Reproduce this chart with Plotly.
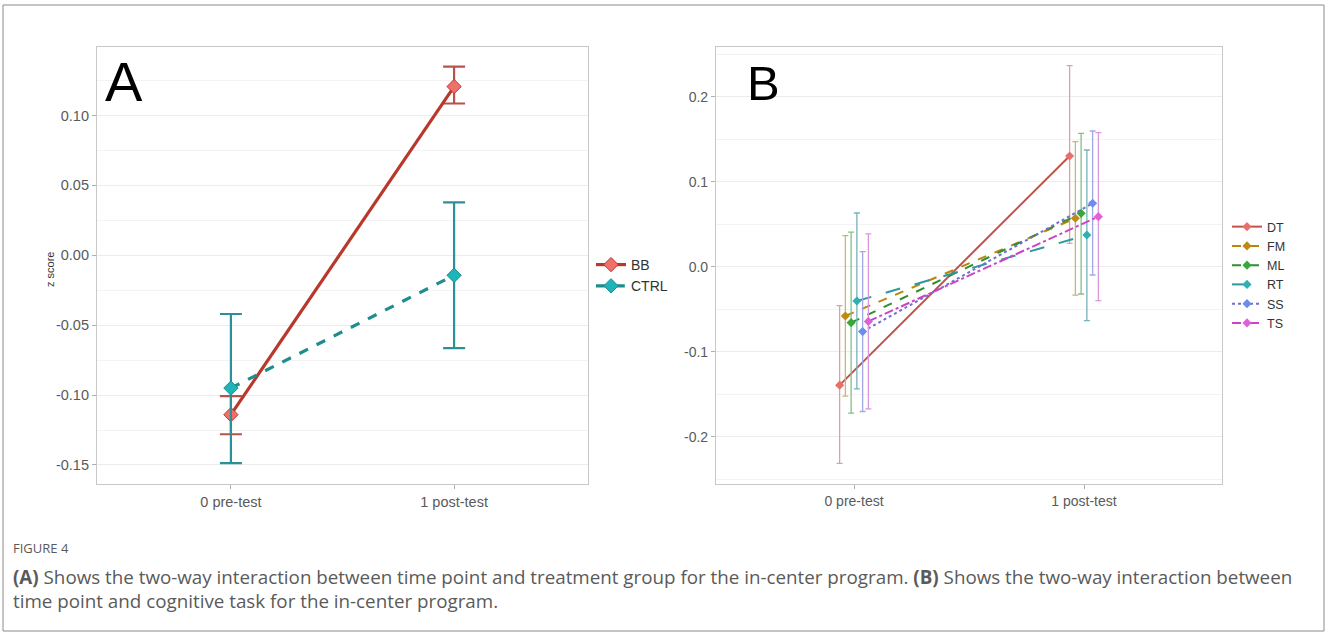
import plotly.graph_objects as go

# ---------------- data ----------------
time_labels = ["0 pre-test", "1 post-test"]

# Panel A
groups_a = ["BB", "CTRL"]
bb_mean = [-0.114, 0.1207]
bb_low = [-0.128, 0.1086]
bb_high = [-0.1007, 0.135]
ctrl_mean = [-0.095, -0.0143]
ctrl_low = [-0.1486, -0.0664]
ctrl_high = [-0.042, 0.0379]

# Panel B
tasks_b = ["DT", "FM", "ML", "RT", "SS", "TS"]
b_mean_pre = [-0.139, -0.0576, -0.0655, -0.040, -0.076, -0.064]
b_low_pre = [-0.231, -0.152, -0.172, -0.1435, -0.170, -0.167]
b_high_pre = [-0.0455, 0.037, 0.041, 0.0635, 0.018, 0.039]
b_mean_post = [0.1306, 0.0573, 0.0631, 0.0376, 0.0749, 0.0592]
b_low_post = [0.0278, -0.033, -0.0318, -0.063, -0.0094, -0.0396]
b_high_post = [0.2369, 0.1475, 0.1573, 0.1376, 0.160, 0.158]

# ---------------- styles ----------------
W, H = 1328, 634
A_line = {"BB": "#b8382c", "CTRL": "#1f8c8e"}
A_err = {"BB": "#b9524c", "CTRL": "#2a9296"}
A_mark = {"BB": "#f0706a", "CTRL": "#1cb5b9"}
A_dash = {"BB": "solid", "CTRL": "dash"}

B_line = ["#c4504a", "#b8860b", "#2f8f2f", "#2a9a9e", "#6f6fd0", "#cc44c4"]
B_err = ["#d9a2a6", "#c9b47c", "#86bf86", "#76b3ba", "#a0a8e6", "#dc98dc"]
B_mark = ["#e8706a", "#c08a10", "#38a838", "#30b0b4", "#6b8cf0", "#e060d8"]
B_dash = ["solid", "dash", "dash", "longdash", "dot", "dashdot"]

FONT = "Liberation Sans, Arial"

fig = go.Figure()

xpos = [1, 2]
for g, m, lo, hi in [("BB", bb_mean, bb_low, bb_high), ("CTRL", ctrl_mean, ctrl_low, ctrl_high)]:
    fig.add_trace(go.Scatter(
        x=xpos, y=m, mode="lines+markers", name=g,
        line=dict(color=A_line[g], width=3.2, dash=A_dash[g]),
        marker=dict(symbol="diamond", size=11, color=A_mark[g],
                    line=dict(color=A_line[g], width=1)),
        error_y=dict(type="data", symmetric=False,
                     array=[h - v for h, v in zip(hi, m)],
                     arrayminus=[v - l for v, l in zip(m, lo)],
                     color=A_err[g], thickness=2.2, width=11),
        xaxis="x", yaxis="y", legend="legend",
    ))

n = len(tasks_b)
step = 0.025
for i, t in enumerate(tasks_b):
    off = (i - (n - 1) / 2) * step
    m = [b_mean_pre[i], b_mean_post[i]]
    lo = [b_low_pre[i], b_low_post[i]]
    hi = [b_high_pre[i], b_high_post[i]]
    fig.add_trace(go.Scatter(
        x=[p + off for p in xpos], y=m, mode="lines+markers", name=t,
        line=dict(color=B_line[i], width=2, dash=B_dash[i]),
        marker=dict(symbol="diamond", size=7, color=B_mark[i]),
        error_y=dict(type="data", symmetric=False,
                     array=[h - v for h, v in zip(hi, m)],
                     arrayminus=[v - l for v, l in zip(m, lo)],
                     color=B_err[i], thickness=1.3, width=3),
        xaxis="x2", yaxis="y2", legend="legend2",
    ))


def tf(size):
    return dict(family=FONT, size=size, color="#5a5a5a")


grid = "#ececec"
common_x = dict(tickvals=xpos, ticktext=time_labels, range=[0.4, 2.6],
                showgrid=False, zeroline=False, showline=True, mirror=True,
                linecolor="#c8c8c8", linewidth=1.2, ticks="outside", ticklen=4,
                tickcolor="#b0b0b0")
common_y = dict(showgrid=True, gridcolor=grid, gridwidth=1, zeroline=False,
                showline=True, mirror=True, linecolor="#c8c8c8", linewidth=1.2,
                ticks="outside", ticklen=4, tickcolor="#b0b0b0")

ytop, ybot = 1 - 47 / H, 1 - 484 / H
fig.update_layout(
    width=W, height=H, margin=dict(l=0, r=0, t=0, b=0),
    paper_bgcolor="white", plot_bgcolor="white",
    xaxis=dict(domain=[97 / W, 588 / W], anchor="y", tickfont=tf(14.5), **common_x),
    yaxis=dict(domain=[ybot, ytop], anchor="x", range=[-0.1636, 0.149],
               tickvals=[-0.15, -0.10, -0.05, 0.0, 0.05, 0.10],
               ticktext=["-0.15", "-0.10", "-0.05", "0.00", "0.05", "0.10"],
               tickfont=tf(14.5), **common_y,
               minor=dict(showgrid=True, gridcolor="#f3f3f3",
                          tickvals=[-0.125, -0.075, -0.025, 0.025, 0.075, 0.125])),
    xaxis2=dict(domain=[716 / W, 1222 / W], anchor="y2", tickfont=tf(14), **common_x),
    yaxis2=dict(domain=[ybot, ytop], anchor="x2", range=[-0.2553, 0.2588],
                tickvals=[-0.2, -0.1, 0.0, 0.1, 0.2],
                ticktext=["-0.2", "-0.1", "0.0", "0.1", "0.2"],
                tickfont=tf(14), **common_y,
                minor=dict(showgrid=True, gridcolor="#f3f3f3",
                           tickvals=[-0.25, -0.15, -0.05, 0.05, 0.15, 0.25])),
    legend=dict(x=591 / W, y=1 - 249 / H, xanchor="left", yanchor="top",
                bgcolor="rgba(0,0,0,0)", font=dict(family=FONT, size=14, color="#333333"),
                tracegroupgap=0, itemwidth=30),
    legend2=dict(x=1227 / W, y=1 - 212 / H, xanchor="left", yanchor="top",
                 bgcolor="rgba(0,0,0,0)", font=dict(family=FONT, size=12.5, color="#333333"),
                 tracegroupgap=0, itemwidth=30),
    showlegend=True,
)

# y-axis title of panel A
fig.add_annotation(text="z score", xref="paper", yref="paper", x=50 / W, y=1 - 270 / H,
                   xanchor="center", yanchor="middle",
                   showarrow=False, textangle=-90,
                   font=dict(family=FONT, size=11, color="#333333"))

# panel letters
fig.add_annotation(text="A", xref="paper", yref="paper", x=103 / W, y=1 - 82 / H,
                   xanchor="left", yanchor="middle", showarrow=False,
                   font=dict(family=FONT, size=56, color="black"))
fig.add_annotation(text="B", xref="paper", yref="paper", x=745 / W, y=1 - 83 / H,
                   xanchor="left", yanchor="middle", showarrow=False,
                   font=dict(family=FONT, size=49, color="black"))

# caption
cap_font = dict(family="Open Sans", size=18.8, color="#5a5a5a")
fig.add_annotation(text="FIGURE 4", xref="paper", yref="paper", x=11 / W, y=1 - 548 / H,
                   xanchor="left", yanchor="middle", showarrow=False,
                   font=dict(family="Open Sans", size=13, color="#5a5a5a"))
fig.add_annotation(
    text="<b>(A)</b> Shows the two-way interaction between time point and treatment group for the in-center program. "
         "<b>(B)</b> Shows the two-way interaction between",
    xref="paper", yref="paper", x=11 / W, y=1 - 577 / H, xanchor="left", yanchor="middle",
    showarrow=False, font=cap_font)
fig.add_annotation(
    text="time point and cognitive task for the in-center program.",
    xref="paper", yref="paper", x=11 / W, y=1 - 601 / H, xanchor="left", yanchor="middle",
    showarrow=False, font=cap_font)

# outer frame
fig.add_shape(type="rect", xref="paper", yref="paper",
              x0=3 / W, x1=1324 / W, y0=1 - 631 / H, y1=1 - 5 / H,
              line=dict(color="#8a8a8a", width=1), fillcolor="rgba(0,0,0,0)", layer="below")

fig.write_html("out.html", config={"displayModeBar": False},
               post_script="document.body.style.margin='0px';")
